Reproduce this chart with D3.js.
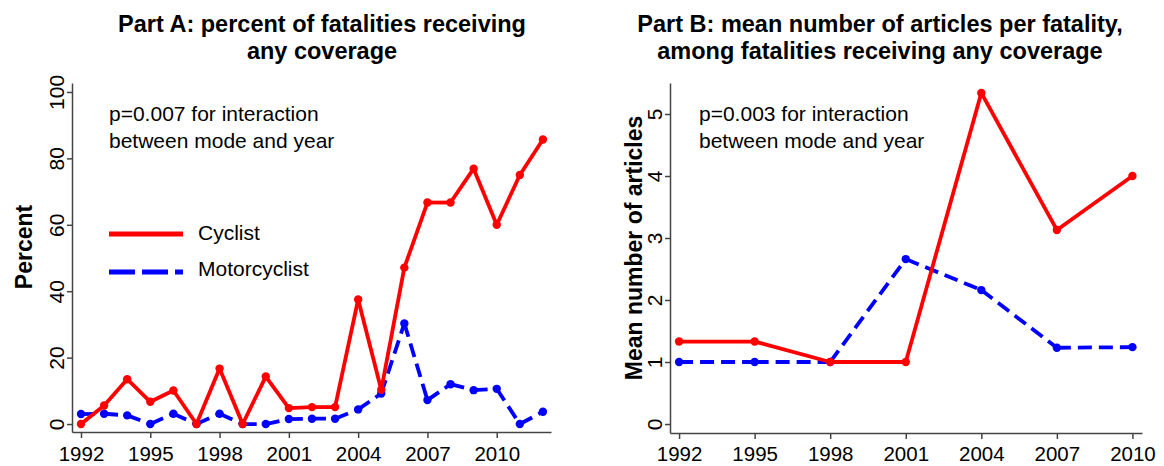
<!DOCTYPE html>
<html><head><meta charset="utf-8">
<script src="https://cdn.jsdelivr.net/npm/d3@7"></script>
<style>
body{margin:0;background:#fff}
svg{display:block}
text{font-family:"Liberation Sans",Arial,Helvetica,sans-serif;fill:#000}
</style>
</head><body>
<svg id="c" width="1164" height="466"></svg>
<script>
// ---------- data ----------
const yearsA = [1992,1993,1994,1995,1996,1997,1998,1999,2000,2001,2002,2003,2004,2005,2006,2007,2008,2009,2010,2011,2012];
const cyclistA = [0,5.6,13.5,6.7,10.1,0,16.7,0,14.3,4.8,5.1,5.1,37.5,10.3,47.1,66.7,66.7,76.9,60,75,85.7];
const motorA   = [3.0,3.1,2.6,0,3.1,0,3.1,0,0,1.5,1.6,1.6,4.4,9.2,30.3,7.2,12,10.2,10.6,0,3.7];
const xTicksA = [1992,1995,1998,2001,2004,2007,2010];
const yTicksA = [0,20,40,60,80,100];

const yearsB = [1992,1995,1998,2001,2004,2007,2010];
const cyclistB = [1.33,1.33,1,1,5.34,3.13,4.0];
const motorB   = [1,1,1,2.66,2.16,1.23,1.24];
const xTicksB = [1992,1995,1998,2001,2004,2007,2010];
const yTicksB = [0,1,2,3,4,5];

const seriesNames = ["Cyclist","Motorcyclist"];
const titleA = ["Part A: percent of fatalities receiving","any coverage"];
const titleB = ["Part B: mean number of articles per fatality,","among fatalities receiving any coverage"];
const noteA = ["p=0.007 for interaction","between mode and year"];
const noteB = ["p=0.003 for interaction","between mode and year"];

// ---------- styles ----------
const RED = "#ff0000", BLUE = "#0000ff", AXIS = "#444";
const svg = d3.select("#c");

function panel(o){
  const g = svg.append("g");
  const x = d3.scaleLinear().domain(o.xDom).range(o.xRange);
  const y = d3.scaleLinear().domain(o.yDom).range(o.yRange);
  const y0 = o.yRange[0], x0 = o.xRange[0];

  // x axis
  const xa = g.append("g").attr("transform",`translate(0,${y0})`)
    .call(d3.axisBottom(x).tickValues(o.xTicks).tickSize(6).tickSizeOuter(0).tickFormat(d3.format("d")));
  xa.selectAll("text").attr("y",o.xLabY).attr("dy",0).style("font-size","20.5px");
  // y axis
  const ya = g.append("g").attr("transform",`translate(${x0},0)`)
    .call(d3.axisLeft(y).tickValues(o.yTicks).tickSize(5).tickSizeOuter(0).tickFormat(d3.format("d")));
  ya.selectAll("text").attr("x",0).attr("dy",0).attr("text-anchor","middle")
    .attr("transform","translate(-8,0) rotate(-90)").style("font-size","21px");
  g.selectAll(".domain,.tick line").attr("stroke",AXIS).attr("stroke-width",1.5);
  g.selectAll(".domain").attr("fill","none");

  // y title
  g.append("text").attr("transform",`translate(${o.yTitleX},${o.yTitleY}) rotate(-90)`)
    .attr("text-anchor","middle").style("font-size","23px").style("font-weight","bold")
    .text(o.yTitle);

  // title
  const t = g.append("text").attr("text-anchor","middle").style("font-size","23.5px").style("font-weight","bold");
  o.title.forEach((s,i)=> t.append("tspan").attr("x",o.titleX).attr("y",32+i*27).text(s));

  // note
  const n = g.append("text").style("font-size","21px");
  o.note.forEach((s,i)=> n.append("tspan").attr("x",o.noteX).attr("y",121+i*26.5).text(s));

  // series
  function draw(years, vals, color, dash){
    const pts = years.map((yr,i)=>[x(yr), y(vals[i])]);
    const segs = pts.slice(1).map((p,i)=>[pts[i],p]);
    g.append("g").selectAll("line").data(segs).join("line")
      .attr("x1",d=>d[0][0]).attr("y1",d=>d[0][1])
      .attr("x2",d=>d[1][0]).attr("y2",d=>d[1][1])
      .attr("stroke",color).attr("stroke-width",3.8)
      .attr("stroke-dasharray",dash).attr("stroke-linecap","butt");
    g.append("g").selectAll("circle").data(pts).join("circle")
      .attr("cx",d=>d[0]).attr("cy",d=>d[1]).attr("r",4.2).attr("fill",color);
  }
  draw(o.years, o.motor, BLUE, "14,7");
  draw(o.years, o.cyc, RED, null);
  return g;
}

const gA = panel({
  xDom:[1991.61,2012.35], xRange:[72,551],
  yDom:[-2.4,102.7], yRange:[432,83],
  xTicks:xTicksA, yTicks:yTicksA, xLabY:29,
  years:yearsA, cyc:cyclistA, motor:motorA,
  yTitle:"Percent", yTitleX:32, yTitleY:247,
  title:titleA, titleX:322, note:noteA, noteX:109
});
panel({
  xDom:[1991.64,2010.38], xRange:[670,1142],
  yDom:[-0.145,5.5], yRange:[433,83],
  xTicks:xTicksB, yTicks:yTicksB, xLabY:28,
  years:yearsB, cyc:cyclistB, motor:motorB,
  yTitle:"Mean number of articles", yTitleX:642, yTitleY:248,
  title:titleB, titleX:880, note:noteB, noteX:699
});

// legend (Part A)
const leg = gA.append("g");
const legItems = [
  {name:seriesNames[0], color:RED, dash:null, y:234, ty:240},
  {name:seriesNames[1], color:BLUE, dash:"26,7", y:272, ty:276}
];
legItems.forEach(d=>{
  leg.append("line").attr("x1",109).attr("x2",183).attr("y1",d.y).attr("y2",d.y)
    .attr("stroke",d.color).attr("stroke-width",5).attr("stroke-dasharray",d.dash);
  leg.append("text").attr("x",198).attr("y",d.ty).style("font-size","21px").text(d.name);
});
</script>
</body></html>
